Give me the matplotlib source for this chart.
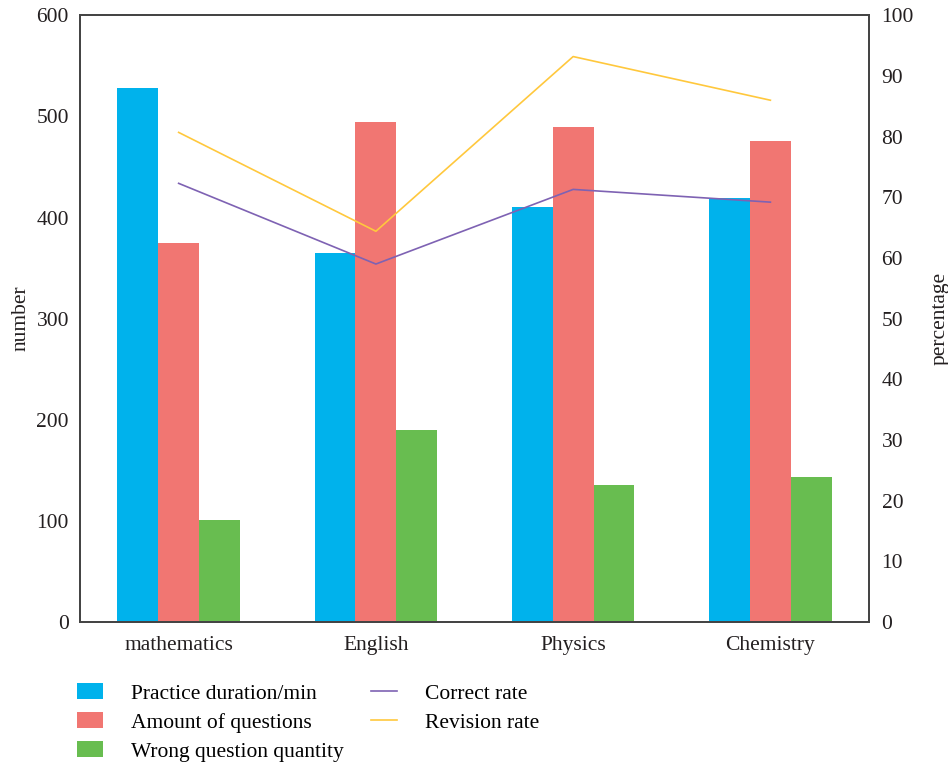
import numpy as np
import matplotlib
matplotlib.use('Agg')
import matplotlib.pyplot as plt

plt.rcParams['font.family'] = ['Liberation Serif', 'DejaVu Serif']

subjects = ['mathematics', 'English', 'Physics', 'Chemistry']
practice_minutes = [528, 365, 410, 419]
question_amount = [375, 494, 490, 476]
wrong_questions = [101, 190, 135, 143]
correct_rate = [72.3, 59.0, 71.3, 69.2]
revision_rate = [80.7, 64.4, 93.2, 86.0]

x = np.arange(len(subjects))
w = 0.207
fs = 15.5

fig = plt.figure(figsize=(9.48, 7.65), dpi=100)
ax = fig.add_axes([0.0844, 0.187, 0.8323, 0.793])
ax2 = ax.twinx()

b1 = ax.bar(x - w, practice_minutes, w, color='#00B2EC', label='Practice duration/min')
b2 = ax.bar(x, question_amount, w, color='#F17672', label='Amount of questions')
b3 = ax.bar(x + w, wrong_questions, w, color='#68BD50', label='Wrong question quantity')

l1, = ax2.plot(x, correct_rate, color='#7E62B3', lw=1.2, label='Correct rate')
l2, = ax2.plot(x, revision_rate, color='#FFC83D', lw=1.2, label='Revision rate')

ax.set_xlim(-0.5, 3.5)
ax.set_ylim(0, 600)
ax2.set_ylim(0, 100)
ax.set_yticks(range(0, 601, 100))
ax2.set_yticks(range(0, 101, 10))
ax.set_xticks(x)
ax.set_xticklabels(subjects)

for a in (ax, ax2):
    a.tick_params(length=0, labelsize=fs, colors='#231f20')
    for s in a.spines.values():
        s.set_color('#444444')
        s.set_linewidth(1.3)
ax.tick_params(axis='y', pad=8)
ax.tick_params(axis='x', pad=10)
ax2.tick_params(axis='y', pad=9)

ax.set_ylabel('number', fontsize=fs, color='#231f20', labelpad=4)
ax2.set_ylabel('percentage', fontsize=fs, color='#231f20', labelpad=12)

fig.legend(handles=[b1, b2, b3, l1, l2], ncol=2, loc='upper left',
           bbox_to_anchor=(0.072, 0.118), frameon=False, fontsize=fs,
           handlelength=1.2, handleheight=0.75, columnspacing=1.3,
           labelspacing=0.4, handletextpad=1.3, borderaxespad=0)

fig.savefig('out.png', dpi=100)
